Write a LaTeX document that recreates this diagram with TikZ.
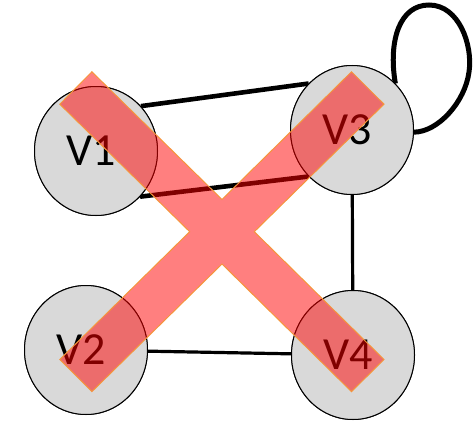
\documentclass[tikz,border=0pt]{standalone}
\usepackage{fontspec}
\setmainfont{Carlito}
\usetikzlibrary{shapes.geometric}
\definecolor{nodegray}{RGB}{217,217,217}
\definecolor{xorange}{RGB}{245,150,60}
\newcommand{\vlab}[1]{\hspace*{-9pt}#1}
\begin{document}
\begin{tikzpicture}[x=1pt,y=-1pt,
  vert/.style={ellipse,draw=black,line width=1pt,fill=nodegray,minimum width=123pt,minimum height=129pt,inner sep=0pt,font=\fontsize{46}{54}\selectfont},
  thickedge/.style={line width=4.6pt,black},
  thinedge/.style={line width=3.2pt,black},
  cross/.style={fill=red,fill opacity=0.5,draw=xorange,line width=1pt,line join=miter}]
\useasboundingbox (0,0) rectangle (476,420);
\node[vert] (v1) at (96,151) {\vlab{V1}};
\node[vert] (v3) at (352,130) {\vlab{V3}};
\node[vert] (v2) at (86,350) {\vlab{V2}};
\node[vert] (v4) at (353,355) {\vlab{V4}};
% edges drawn first, nodes redrawn on top
\draw[thickedge] (v1.45) -- (v3.133);
\draw[thickedge] (v1.-46) -- (v3.227);
\draw[thinedge] (v3) -- (v4);
\draw[thinedge] (v2) -- (v4);
\draw[line width=5pt,black] (v3.47) .. controls (388,40) and (400,5) .. (429,5)
  .. controls (459,5) and (473,45) .. (469,72)
  .. controls (465,102) and (438,132) .. (v3.-2);
\node[vert] at (96,151) {\vlab{V1}};
\node[vert] at (352,130) {\vlab{V3}};
\node[vert] at (86,350) {\vlab{V2}};
\node[vert] at (353,355) {\vlab{V4}};
\path[cross] (91.9,71.8) -- (222,199.5) -- (351.5,71.8) -- (384,104.2) -- (254.3,231.7)
  -- (384,359.5) -- (351.5,391.6) -- (222,264) -- (91.9,391.6) -- (59.8,359.5)
  -- (189.7,231.7) -- (59.8,104.2) -- cycle;
\end{tikzpicture}
\end{document}
